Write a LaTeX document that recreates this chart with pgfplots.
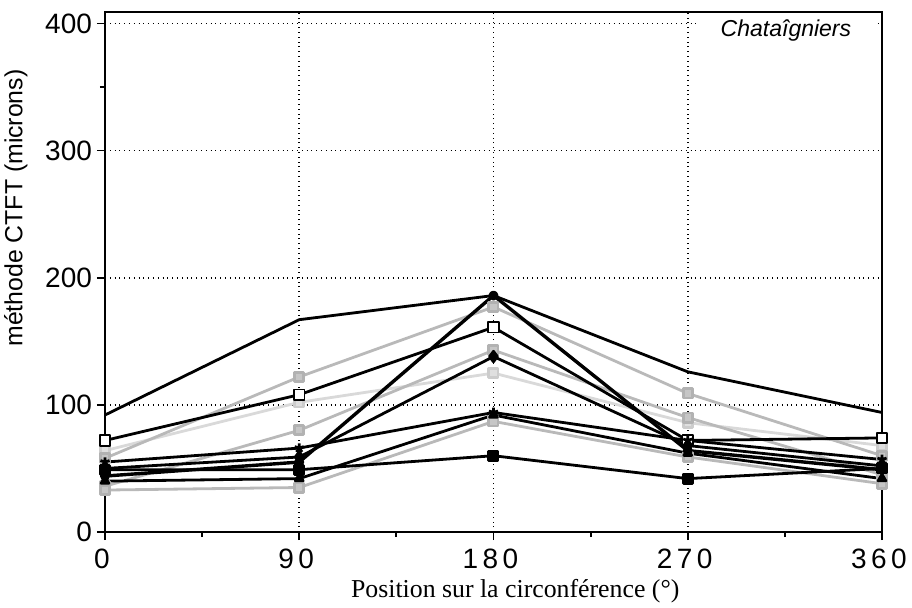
\documentclass[border=0pt]{standalone}
\usepackage{fontspec}
\setmainfont{Liberation Sans}
\newfontfamily\seriffont{Liberation Serif}
\usepackage{pgfplots}
\pgfplotsset{compat=1.18}
\begin{document}
\begin{tikzpicture}
\path[use as bounding box] (-52.5pt,-37.5pt) rectangle (403.5pt,266pt);
\begin{axis}[
  at={(0,0)}, anchor=south west,
  scale only axis, width=388.5pt, height=260pt,
  xmin=0, xmax=360, ymin=0, ymax=409,
  xtick={0,90,180,270,360}, ytick={0,100,200,300,400},
  minor xtick={45,135,225,315}, minor ytick={350},
  grid=major, major grid style={black, dotted, line width=0.8pt},
  minor grid style={draw=none},
  tick align=outside, tick pos=left,
  major tick length=4pt, minor tick length=2.5pt,
  axis line style={line width=1pt},
  every tick/.style={black, line width=0.9pt},
  /pgf/number format/assume math mode=true,
  yticklabel style={font=\fontsize{14}{16}\selectfont, xshift=1pt},
  xticklabel style={font=\fontsize{14}{16}\selectfont\addfontfeatures{LetterSpace=16}, yshift=-1pt, xshift=-1.5pt},
  xlabel={\seriffont\fontsize{12.9}{15}\selectfont Position sur la circonférence (°)},
  ylabel={\fontsize{12.4}{14}\selectfont méthode CTFT (microns)},
  xlabel style={at={(rel axis cs:0.528,0)}, anchor=north, yshift=-20pt},
  ylabel style={at={(ticklabel cs:0.623)}, anchor=south, yshift=2pt},
  clip=false,
  every axis plot/.append style={line join=round},
]
% gray series
\addplot[color=gray!30, line width=1.4pt, mark=square*, mark size=2.3pt, mark options={fill=gray!25, draw=gray!40}]
  coordinates {(0,64) (90,102) (180,125) (270,86) (360,68)};
\addplot[color=gray!55, line width=1.4pt, mark=square*, mark size=2.3pt, mark options={fill=gray!45, draw=gray!60}]
  coordinates {(0,58) (90,122) (180,177) (270,109) (360,60)};
\addplot[color=gray!55, line width=1.4pt, mark=square*, mark size=2.3pt, mark options={fill=gray!45, draw=gray!60}]
  coordinates {(0,36) (90,80) (180,143) (270,90) (360,45)};
\addplot[color=gray!55, line width=1.4pt, mark=square*, mark size=2.3pt, mark options={fill=gray!45, draw=gray!60}]
  coordinates {(0,33) (90,35) (180,87) (270,59) (360,38)};
% black series
\addplot[black, line width=1.4pt, mark=none]
  coordinates {(0,92) (90,167) (180,186) (270,126) (360,94)};
\addplot[black, line width=1.4pt, mark=square*, mark size=2.6pt, mark options={fill=white, draw=black, line width=0.9pt}]
  coordinates {(0,72) (90,108) (180,161) (270,72) (360,74)};
\addplot[black, line width=1.7pt, mark=*, mark size=1.6pt]
  coordinates {(0,44) (90,55) (180,186) (270,64) (360,49)};
\addplot[black, line width=1.4pt, mark=diamond*, mark size=2.6pt]
  coordinates {(0,50) (90,59) (180,138) (270,68) (360,52)};
\addplot[black, line width=1.4pt, mark=star, mark size=2.4pt]
  coordinates {(0,55) (90,66) (180,94) (270,72) (360,57)};
\addplot[black, line width=1.4pt, mark=square*, mark size=2.3pt]
  coordinates {(0,49) (90,49) (180,60) (270,42) (360,50)};
\addplot[black, line width=1.4pt, mark=triangle*, mark size=2.2pt]
  coordinates {(0,40) (90,42) (180,92) (270,62) (360,42)};
\node[fill=white, inner sep=0pt, minimum width=89.5pt, minimum height=13pt,
      font=\itshape\fontsize{11.5}{13}\selectfont] at (axis cs:315.5,394.5) {Chataîgniers};
\end{axis}
\end{tikzpicture}
\end{document}
